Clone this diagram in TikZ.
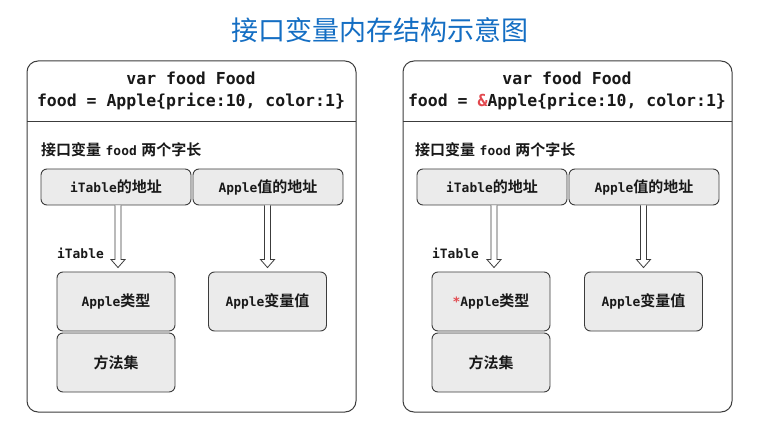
\documentclass[tikz,border=0pt]{standalone}
\usepackage{fontspec}
\newfontfamily\cjk{Noto Sans CJK SC}[BoldFont={Noto Sans CJK SC Bold}]
\newfontfamily\monob{DejaVu Sans Mono Bold}
\newfontfamily\monos{DejaVu Sans Mono Bold}[Scale=0.86]
\usetikzlibrary{calc}
\definecolor{titleblue}{RGB}{20,110,195}
\definecolor{boxfill}{RGB}{235,235,235}
\definecolor{edge}{RGB}{60,60,60}
\definecolor{amp}{RGB}{226,72,78}
\definecolor{ink}{RGB}{25,25,25}
\newcommand\cn[1]{{\cjk\bfseries #1}}
\newcommand\mb[1]{{\monos #1}}
\newcommand\harrow[2]{%
  \draw[harr] ($(#1)+(-3,0)$) -- ($(#2)+(-3,-8)$) -- ($(#2)+(-7,-8)$) -- (#2)
    -- ($(#2)+(7,-8)$) -- ($(#2)+(3,-8)$) -- ($(#1)+(3,0)$);}
\tikzset{
  panel/.style={draw=edge, line width=1pt, rounded corners=11pt, fill=white,
    minimum width=329pt, minimum height=351pt, inner sep=0pt},
  hdr/.style={align=center, text=ink, font=\fontsize{16.5}{22}\selectfont\monob, inner sep=0pt},
  lbl/.style={text=ink, font=\fontsize{15}{18}\selectfont, inner sep=0pt},
  box/.style={draw=edge, line width=0.9pt, rounded corners=6pt, fill=boxfill,
    text=ink, font=\fontsize{15}{18}\selectfont, inner sep=0pt},
  addr/.style={box, minimum width=150pt, minimum height=36pt},
  cell/.style={box, minimum width=118pt, minimum height=59pt},
  harr/.style={draw=edge, line width=0.8pt, fill=white, line join=miter},
  divider/.style={draw=edge, line width=1pt},
}
\begin{document}
\begin{tikzpicture}[x=1pt, y=-1pt]
\useasboundingbox (0,0) rectangle (760,430);
\node[text=titleblue, font=\fontsize{27}{30}\selectfont\cjk, inner sep=0pt] (title) at (380,30) {接口变量内存结构示意图};

% ---------- left panel ----------
\node[panel] (lp) at (191.5,236.5) {};
\coordinate (ld1) at (27,122); \coordinate (ld2) at (356,122);
\draw[divider] (ld1) -- (ld2);
\node[hdr] (lh) at (191,91) {var food Food\\food = Apple\{price:10, color:1\}};
\node[lbl, anchor=west] (ll) at (41,150) {\cn{接口变量} \mb{food} \cn{两个字长}};
\node[addr] (la) at (116,187) {\mb{iTable}\cn{的地址}};
\node[addr] (lb) at (268,187) {\mb{Apple}\cn{值的地址}};
\node[lbl, anchor=west] (lit) at (57,253) {\mb{iTable}};
\node[cell] (lt) at (116,301.5) {\mb{Apple}\cn{类型}};
\node[cell] (lm) at (116,362.5) {\cn{方法集}};
\node[cell] (lv) at (267.5,301.5) {\mb{Apple}\cn{变量值}};
\coordinate (a1s) at ($(la.south)+(2,0)$);
\coordinate (a1e) at ($(a1s |- lt.north)+(0,-4)$);
\harrow{a1s}{a1e}
\coordinate (a2s) at ($(lb.south)+(-0.5,0)$);
\coordinate (a2e) at ($(a2s |- lv.north)+(0,-4)$);
\harrow{a2s}{a2e}

% ---------- right panel ----------
\node[panel] (rp) at (567.5,236.5) {};
\coordinate (rd1) at (403,122); \coordinate (rd2) at (732,122);
\draw[divider] (rd1) -- (rd2);
\node[hdr] (rh) at (567,91) {var food Food\\food = {\color{amp}\&}Apple\{price:10, color:1\}};
\node[lbl, anchor=west] (rl) at (415,150) {\cn{接口变量} \mb{food} \cn{两个字长}};
\node[addr] (ra) at (492,187) {\mb{iTable}\cn{的地址}};
\node[addr] (rb) at (644,187) {\mb{Apple}\cn{值的地址}};
\node[lbl, anchor=west] (rit) at (432,253) {\mb{iTable}};
\node[cell] (rt) at (491,301.5) {\mb{{\color{amp}*}Apple}\cn{类型}};
\node[cell] (rm) at (491,362.5) {\cn{方法集}};
\node[cell] (rv) at (643.5,301.5) {\mb{Apple}\cn{变量值}};
\coordinate (b1s) at ($(ra.south)+(2,0)$);
\coordinate (b1e) at ($(b1s |- rt.north)+(0,-4)$);
\harrow{b1s}{b1e}
\coordinate (b2s) at ($(rb.south)+(-0.5,0)$);
\coordinate (b2e) at ($(b2s |- rv.north)+(0,-4)$);
\harrow{b2s}{b2e}
\end{tikzpicture}
\end{document}
